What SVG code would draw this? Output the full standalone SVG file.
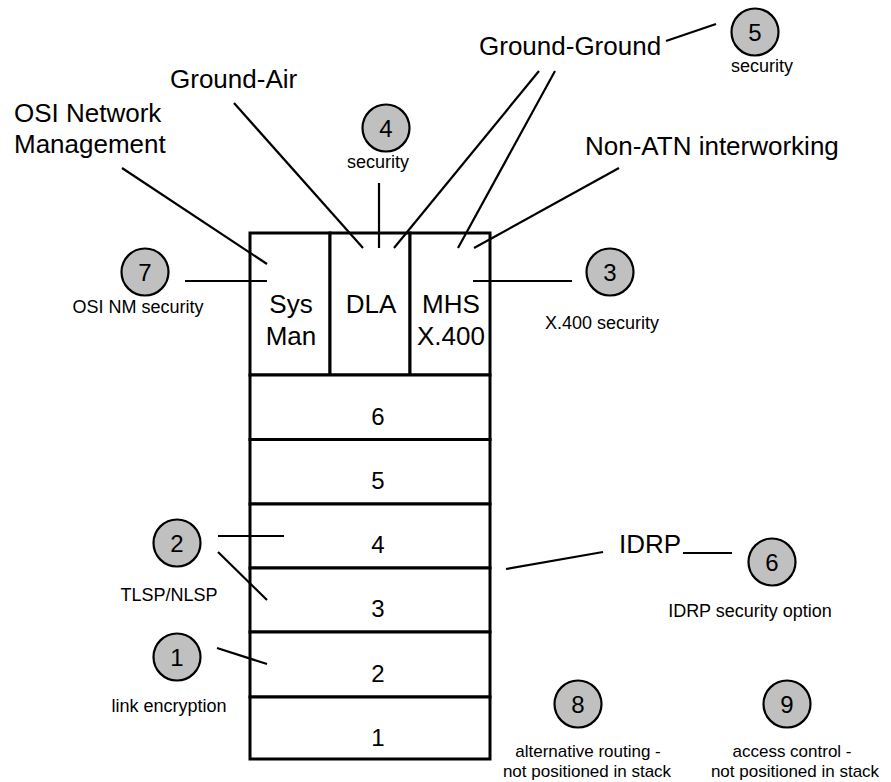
<svg xmlns="http://www.w3.org/2000/svg" width="891" height="782" viewBox="0 0 891 782">
  <style>
    text { font-family: "Liberation Sans", Arial, sans-serif; fill: #000; }
    .big { font-size: 26px; }
    .small { font-size: 18px; text-anchor: middle; }
    .note { font-size: 17px; text-anchor: middle; }
    .digit { font-size: 24px; text-anchor: middle; }
    .cell { font-size: 26px; text-anchor: middle; }
    .box { fill: #fff; stroke: #000; stroke-width: 3; }
    .badge { fill: #c0c0c0; stroke: #000; stroke-width: 2.2; }
    .conn line { stroke: #000; stroke-width: 2.2; fill: none; }
  </style>
  <rect width="891" height="782" fill="#fff"/>

  <!-- protocol stack -->
  <g id="stack">
    <g id="app-sysman">
      <rect class="box" x="250" y="233" width="80" height="142"/>
      <text class="cell" x="291" y="313">Sys</text>
      <text class="cell" x="291" y="345">Man</text>
    </g>
    <g id="app-dla">
      <rect class="box" x="330" y="233" width="80" height="142"/>
      <text class="cell" x="371" y="313">DLA</text>
    </g>
    <g id="app-mhs">
      <rect class="box" x="410" y="233" width="80" height="142"/>
      <text class="cell" x="451" y="313">MHS</text>
      <text class="cell" x="451" y="345">X.400</text>
    </g>
    <g id="layer6">
      <rect class="box" x="250" y="375" width="240" height="64.5"/>
      <text class="digit" x="378" y="425">6</text>
    </g>
    <g id="layer5">
      <rect class="box" x="250" y="439.5" width="240" height="64.5"/>
      <text class="digit" x="378" y="489">5</text>
    </g>
    <g id="layer4">
      <rect class="box" x="250" y="504" width="240" height="64"/>
      <text class="digit" x="378" y="553">4</text>
    </g>
    <g id="layer3">
      <rect class="box" x="250" y="568" width="240" height="64"/>
      <text class="digit" x="378" y="617">3</text>
    </g>
    <g id="layer2">
      <rect class="box" x="250" y="632" width="240" height="65"/>
      <text class="digit" x="378" y="682">2</text>
    </g>
    <g id="layer1">
      <rect class="box" x="250" y="697" width="240" height="62"/>
      <text class="digit" x="378" y="746">1</text>
    </g>
  </g>

  <!-- connectors -->
  <g id="connectors" class="conn">
    <line x1="122" y1="168" x2="267" y2="264"/>
    <line x1="234" y1="103" x2="363" y2="248"/>
    <line x1="379" y1="183" x2="379" y2="248"/>
    <line x1="539" y1="71" x2="394" y2="248"/>
    <line x1="555" y1="71" x2="458" y2="248"/>
    <line x1="666" y1="41" x2="716" y2="24"/>
    <line x1="619" y1="168" x2="474" y2="248"/>
    <line x1="185" y1="281" x2="267" y2="281"/>
    <line x1="473" y1="281" x2="572" y2="281"/>
    <line x1="218" y1="536" x2="284" y2="536"/>
    <line x1="218" y1="552" x2="267" y2="600"/>
    <line x1="217" y1="648" x2="267" y2="664"/>
    <line x1="506" y1="569" x2="603" y2="552"/>
    <line x1="683" y1="553" x2="732" y2="553"/>
  </g>

  <!-- service labels -->
  <g id="label-osi-nm">
    <text class="big" x="14" y="122">OSI Network</text>
    <text class="big" x="14" y="153">Management</text>
  </g>
  <g id="label-ground-air">
    <text class="big" x="170" y="88">Ground-Air</text>
  </g>
  <g id="label-ground-ground">
    <text class="big" x="479" y="55">Ground-Ground</text>
  </g>
  <g id="label-non-atn">
    <text class="big" x="585" y="155">Non-ATN interworking</text>
  </g>
  <g id="label-idrp">
    <text class="big" x="619" y="553">IDRP</text>
  </g>

  <!-- numbered security points -->
  <g id="sec1">
    <circle class="badge" cx="177" cy="657" r="23.5"/>
    <text class="digit" x="177" y="666">1</text>
    <text class="small" x="169" y="712">link encryption</text>
  </g>
  <g id="sec2">
    <circle class="badge" cx="177" cy="543" r="23.5"/>
    <text class="digit" x="177" y="552">2</text>
    <text class="small" x="169" y="601">TLSP/NLSP</text>
  </g>
  <g id="sec3">
    <circle class="badge" cx="610" cy="272" r="23.5"/>
    <text class="digit" x="610" y="281">3</text>
    <text class="small" x="602" y="329">X.400 security</text>
  </g>
  <g id="sec4">
    <circle class="badge" cx="386" cy="128" r="23.5"/>
    <text class="digit" x="386" y="137">4</text>
    <text class="small" x="378" y="168">security</text>
  </g>
  <g id="sec5">
    <circle class="badge" cx="755" cy="32" r="23.5"/>
    <text class="digit" x="755" y="41">5</text>
    <text class="small" x="762" y="72">security</text>
  </g>
  <g id="sec6">
    <circle class="badge" cx="772" cy="562" r="23.5"/>
    <text class="digit" x="772" y="571">6</text>
    <text class="small" x="750" y="617">IDRP security option</text>
  </g>
  <g id="sec7">
    <circle class="badge" cx="145" cy="272" r="23.5"/>
    <text class="digit" x="145" y="281">7</text>
    <text class="small" x="138" y="313">OSI NM security</text>
  </g>
  <g id="sec8">
    <circle class="badge" cx="578" cy="704" r="23.5"/>
    <text class="digit" x="578" y="713">8</text>
    <text class="note" x="588" y="757">alternative routing -</text>
    <text class="note" x="587" y="777">not positioned in stack</text>
  </g>
  <g id="sec9">
    <circle class="badge" cx="787" cy="704" r="23.5"/>
    <text class="digit" x="787" y="713">9</text>
    <text class="note" x="792" y="757">access control -</text>
    <text class="note" x="795" y="777">not positioned in stack</text>
  </g>
</svg>
